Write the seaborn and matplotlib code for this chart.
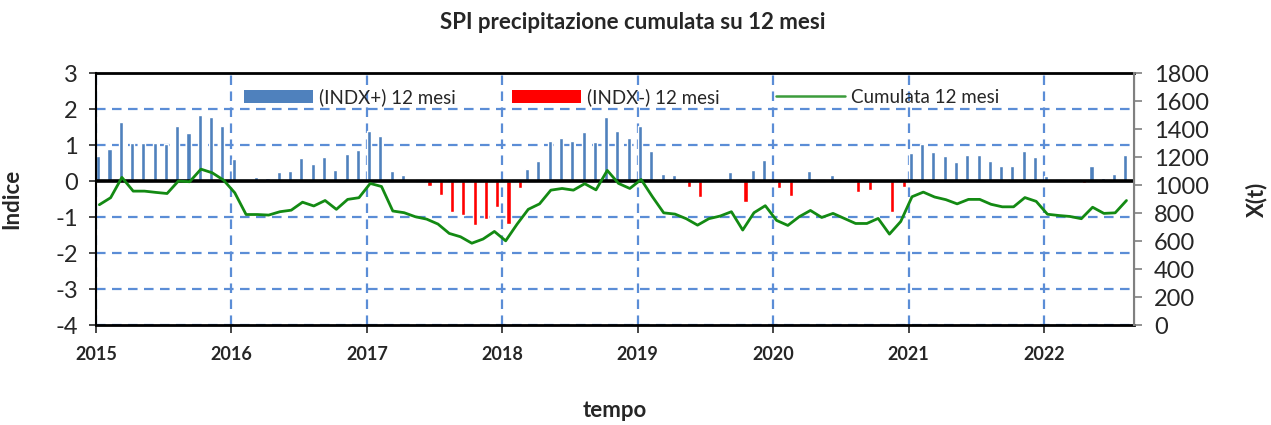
import numpy as np
import pandas as pd
import matplotlib
matplotlib.use("Agg")
import matplotlib.pyplot as plt
import seaborn as sns
from matplotlib.patches import Patch
from matplotlib.lines import Line2D

# anni sull'asse x (una tacca ogni gennaio)
anni = [2015, 2016, 2017, 2018, 2019, 2020, 2021, 2022]

# SPI mensile 12 mesi, gen 2015 - ago 2022
spi = [
    0.70, 0.89, 1.63, 1.05, 1.05, 1.07, 1.02, 1.54, 1.35, 1.85, 1.77, 1.54,      # 2015
    0.62, 0.00, 0.12, 0.10, 0.24, 0.29, 0.63, 0.47, 0.66, 0.32, 0.74, 0.86,      # 2016
    1.40, 1.24, 0.29, 0.17, 0.00, -0.14, -0.39, -0.85, -0.94, -1.23, -1.05, -0.71,  # 2017
    -1.19, -0.20, 0.35, 0.55, 1.12, 1.19, 1.12, 1.37, 1.09, 1.77, 1.40, 1.20,    # 2018
    1.54, 0.85, 0.21, 0.16, -0.17, -0.44, 0.00, 0.00, 0.24, -0.58, 0.31, 0.59,   # 2019
    -0.20, -0.40, 0.07, 0.28, 0.00, 0.17, 0.00, -0.31, -0.25, 0.00, -0.85, -0.17,  # 2020
    0.78, 1.04, 0.81, 0.69, 0.52, 0.73, 0.73, 0.56, 0.43, 0.43, 0.85, 0.67,      # 2021
    0.13, 0.00, 0.00, -0.05, 0.43, 0.10, 0.20, 0.73,                            # 2022
]

# precipitazione cumulata 12 mesi (mm)
cumulata = [
    860, 910, 1055, 957, 957, 948, 940, 1029, 1024, 1114, 1088, 1036,
    945, 790, 790, 786, 810, 821, 878, 851, 890, 827, 898, 910,
    1012, 990, 815, 803, 774, 757, 722, 655, 631, 585, 615, 669,
    602, 720, 827, 866, 964, 976, 964, 1010, 966, 1105, 1012, 976,
    1040, 917, 802, 793, 760, 714, 760, 779, 810, 679, 803, 853,
    748, 712, 774, 819, 769, 798, 762, 726, 726, 762, 650, 740,
    917, 950, 915, 896, 866, 898, 898, 863, 845, 845, 911, 884,
    792, 783, 776, 760, 842, 798, 802, 890,
]

df = pd.DataFrame({"mese": np.arange(len(spi)), "spi": spi, "cumulata": cumulata})
df["pos"] = df["spi"].clip(lower=0)
df["neg"] = df["spi"].clip(upper=0)

sns.set_style("white")
plt.rcParams["font.family"] = ["Lato", "DejaVu Sans"]
plt.rcParams["axes.unicode_minus"] = False

blu = "#4F81BD"
rosso = "#FF0000"
verde = "#138A13"
griglia = "#5B8DD6"

fig = plt.figure(figsize=(12.71, 4.25), dpi=100)
ax = fig.add_axes([0.0755, 0.235, 0.817, 0.593])
ax.set_axisbelow(True)

sns.barplot(x=df["mese"] + 0.2, y=df["pos"], native_scale=True, width=0.36,
            color=blu, saturation=1, errorbar=None, ax=ax)
sns.barplot(x=df["mese"] + 0.55, y=df["neg"], native_scale=True, width=0.36,
            color=rosso, saturation=1, errorbar=None, ax=ax)
ax.axhline(0, color="black", lw=2.6, zorder=3)

ax.set_xlim(0, 92)
ax.set_ylim(-4, 3)
ax.set_yticks(range(-4, 4))
ax.set_xticks([12 * i for i in range(len(anni))])
ax.set_xticklabels([str(a) for a in anni], fontsize=13, fontweight="bold")
ax.tick_params(axis="y", labelsize=17, direction="out", length=5, width=1.2, pad=8)
ax.tick_params(axis="x", direction="out", length=6, width=1.2, pad=9, bottom=True)
ax.tick_params(left=True)
ax.grid(True, color=griglia, lw=1.6, linestyle=(0, (4.3, 2.9)))
for s in ["left", "bottom", "top"]:
    ax.spines[s].set_color("black")
ax.spines["left"].set_linewidth(1.5)
ax.spines["bottom"].set_linewidth(2)
ax.spines["top"].set_linewidth(2)

ax.set_ylabel("Indice", fontsize=16, fontweight="bold")
ax.yaxis.set_label_coords(-0.071, 0.5)
ax.set_xlabel("tempo", fontsize=16, fontweight="bold", va="center")
ax.xaxis.set_label_coords(0.5, -0.337)

ax2 = ax.twinx()
sns.lineplot(x=df["mese"] + 0.3, y=df["cumulata"], color=verde, lw=2, ax=ax2)
ax2.set_ylim(0, 1800)
ax2.set_yticks(range(0, 1801, 200))
ax2.tick_params(axis="y", labelsize=17, direction="out", length=6, width=1.2,
                color="#808080", pad=8, right=True)
ax2.spines["right"].set_color("#808080")
ax2.spines["right"].set_linewidth(1.5)
for s in ["left", "bottom", "top"]:
    ax2.spines[s].set_visible(False)
ax2.set_ylabel("X(t)", fontsize=16, fontweight="bold")
ax2.yaxis.set_label_coords(1.107, 0.5)
ax2.set_xlim(0, 92)

handles = [
    Patch(facecolor=blu, edgecolor="none"),
    Patch(facecolor=rosso, edgecolor="none"),
    Line2D([0], [0], color="#3C9C3C", lw=1.8),
]
labels = ["(INDX+) 12 mesi", "(INDX-) 12 mesi", "Cumulata 12 mesi"]
ax2.legend(handles, labels, loc="center", bbox_to_anchor=(0.506, 0.905), ncol=3,
           frameon=False, fontsize=13.5, handlelength=3.7, handletextpad=0.3,
           columnspacing=3.0)

fig.text(0.498, 0.948, "SPI precipitazione cumulata su 12 mesi", ha="center",
         va="center", fontsize=16, fontweight="bold")

fig.savefig("out.png", dpi=100)
